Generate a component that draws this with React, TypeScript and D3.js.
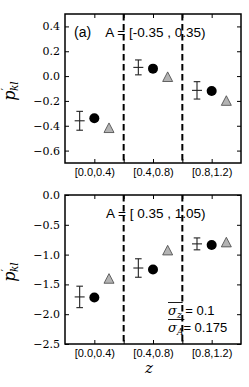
import React, { useEffect, useRef } from "react";
import * as d3 from "d3";

const groups = ["[0.0,0.4)", "[0.4,0.8)", "[0.8,1.2)"];
const groupCenters = [0.2, 0.6, 1.0];
const binEdges = [0.4, 0.8];
const xTicks = [0.2, 0.4, 0.6, 0.8, 1.0];

// top panel, A = [-0.35, 0.35)
const obsTop = [-0.36, 0.07, -0.115];
const errTop = [0.076, 0.06, 0.07];
const circleTop = [-0.34, 0.06, -0.12];
const triangleTop = [-0.416, -0.005, -0.197];
const yTicksTop = [0.4, 0.2, 0.0, -0.2, -0.4, -0.6];

// bottom panel, A = [0.35, 1.05)
const obsBottom = [-1.71, -1.225, -0.82];
const errBottom = [0.18, 0.155, 0.1];
const circleBottom = [-1.72, -1.25, -0.84];
const triangleBottom = [-1.4, -0.925, -0.79];
const yTicksBottom = [0.0, -0.5, -1.0, -1.5, -2.0, -2.5];

const W = 249;
const H = 387;
const left = 65;
const right = 241;
const panelH = 149;
const sans = "Liberation Sans, Arial, sans-serif";
const serif = "DejaVu Serif, serif";

export default function App() {
  const ref = useRef<SVGSVGElement>(null);

  useEffect(() => {
    const svg = d3.select(ref.current);
    svg.selectAll("*").remove();

    const x = d3.scaleLinear().domain([0, 1.2]).range([left, right]);
    const fmt = d3.format(".1f");

    function panel(
      top: number,
      domain: [number, number],
      yTicks: number[],
      obs: number[],
      err: number[],
      circ: number[],
      tri: number[],
      label: string,
      tag: string | null
    ) {
      const y = d3.scaleLinear().domain(domain).range([top + panelH, top]);
      const g = svg.append("g");

      // dashed bin boundaries
      g.selectAll("line.edge")
        .data(binEdges)
        .enter()
        .append("line")
        .attr("x1", (d) => x(d))
        .attr("x2", (d) => x(d))
        .attr("y1", top)
        .attr("y2", top + panelH)
        .attr("stroke", "#000")
        .attr("stroke-width", 2)
        .attr("stroke-dasharray", "6.5,3.5");

      // axes, ticks pointing inward
      const yl = g
        .append("g")
        .attr("transform", `translate(${left},0)`)
        .call(
          d3
            .axisLeft(y)
            .tickValues(yTicks)
            .tickSizeInner(-4)
            .tickSizeOuter(0)
            .tickPadding(5)
            .tickFormat((d) => fmt(d as number))
        );
      yl.attr("font-family", serif).attr("font-size", 11);
      yl.selectAll("text").attr("fill", "#000");
      g.append("g")
        .attr("transform", `translate(${right},0)`)
        .call(
          d3
            .axisRight(y)
            .tickValues(yTicks)
            .tickSizeInner(-4)
            .tickSizeOuter(0)
            .tickFormat(() => "")
        );
      const xb = g
        .append("g")
        .attr("transform", `translate(0,${top + panelH})`)
        .call(
          d3
            .axisBottom(x)
            .tickValues(xTicks)
            .tickSizeInner(-4)
            .tickSizeOuter(0)
            .tickPadding(5)
            .tickFormat((d) => {
              const i = groupCenters.indexOf(d as number);
              return i >= 0 ? groups[i] : "";
            })
        );
      xb.attr("font-family", sans).attr("font-size", 11);
      xb.selectAll("text").attr("fill", "#000");
      g.append("g")
        .attr("transform", `translate(0,${top})`)
        .call(
          d3
            .axisTop(x)
            .tickValues(xTicks)
            .tickSizeInner(-4)
            .tickSizeOuter(0)
            .tickFormat(() => "")
        );
      g.selectAll(".domain").remove();
      g.selectAll(".tick line").attr("stroke", "#000").attr("stroke-width", 1);

      // frame
      g.append("rect")
        .attr("x", left)
        .attr("y", top)
        .attr("width", right - left)
        .attr("height", panelH)
        .attr("fill", "none")
        .attr("stroke", "#000")
        .attr("stroke-width", 1.5);

      // error bars
      const ex = (i: number) => x(groupCenters[i] - 0.1);
      const eb = g
        .selectAll("g.eb")
        .data(obs)
        .enter()
        .append("g")
        .attr("stroke", "#222")
        .attr("stroke-width", 1.1);
      eb.append("line")
        .attr("x1", (d, i) => ex(i))
        .attr("x2", (d, i) => ex(i))
        .attr("y1", (d, i) => y(d + err[i]))
        .attr("y2", (d, i) => y(d - err[i]));
      eb.append("line")
        .attr("x1", (d, i) => ex(i) - 3.3)
        .attr("x2", (d, i) => ex(i) + 3.3)
        .attr("y1", (d, i) => y(d + err[i]))
        .attr("y2", (d, i) => y(d + err[i]));
      eb.append("line")
        .attr("x1", (d, i) => ex(i) - 3.3)
        .attr("x2", (d, i) => ex(i) + 3.3)
        .attr("y1", (d, i) => y(d - err[i]))
        .attr("y2", (d, i) => y(d - err[i]));
      eb.append("line")
        .attr("x1", (d, i) => ex(i) - 5)
        .attr("x2", (d, i) => ex(i) + 5)
        .attr("y1", (d) => y(d))
        .attr("y2", (d) => y(d));

      // circles
      g.selectAll("circle.m")
        .data(circ)
        .enter()
        .append("circle")
        .attr("cx", (d, i) => x(groupCenters[i]))
        .attr("cy", (d) => y(d))
        .attr("r", 5)
        .attr("fill", "#000");

      // triangles
      g.selectAll("path.t")
        .data(tri)
        .enter()
        .append("path")
        .attr("d", "M0,-4.8L5,4.8L-5,4.8Z")
        .attr("transform", (d, i) => `translate(${x(groupCenters[i] + 0.1)},${y(d)})`)
        .attr("fill", "#b3b3b3")
        .attr("stroke", "#444")
        .attr("stroke-width", 0.8);

      // annotations
      if (tag) {
        g.append("text")
          .attr("x", 74)
          .attr("y", top + 23)
          .attr("font-family", sans)
          .attr("font-size", 14)
          .text(tag);
      }
      g.append("text")
        .attr("x", 205.5)
        .attr("y", top + 23)
        .attr("text-anchor", "end")
        .attr("font-family", sans)
        .attr("font-size", 13.5)
        .text(label);

      // y label p'_kl
      const lab = g
        .append("text")
        .attr("transform", `translate(15,${top + 77}) rotate(-90)`)
        .attr("text-anchor", "middle")
        .attr("font-family", serif)
        .attr("font-style", "italic")
        .attr("font-size", 16);
      lab.append("tspan").text("p");
      lab.append("tspan")
        .attr("font-style", "normal")
        .attr("font-size", 11)
        .attr("dy", -6)
        .text("′");
      lab.append("tspan")
        .attr("font-size", 10.5)
        .attr("dx", -3)
        .attr("dy", 9)
        .text("kl");
    }

    panel(14, [-0.7, 0.5], yTicksTop, obsTop, errTop, circleTop, triangleTop, "A = [-0.35 , 0.35)", "(a)");
    panel(195, [-2.5, 0], yTicksBottom, obsBottom, errBottom, circleBottom, triangleBottom, "A = [ 0.35 , 1.05)", null);

    // sigma annotation
    const sig = [
      { sub: "z", rest: " = 0.1", base: 315 },
      { sub: "A", rest: "= 0.175", base: 332 },
    ];
    sig.forEach((s) => {
      const t = svg
        .append("text")
        .attr("x", 168)
        .attr("y", s.base)
        .attr("font-size", 13);
      t.append("tspan")
        .attr("font-family", serif)
        .attr("font-style", "italic")
        .text("σ");
      t.append("tspan")
        .attr("font-family", serif)
        .attr("font-style", "italic")
        .attr("font-size", 9)
        .attr("dy", 3)
        .text(s.sub);
      const sw = (t.node() as SVGTextElement).getComputedTextLength();
      t.append("tspan")
        .attr("font-family", sans)
        .attr("dy", -3)
        .text(s.rest);
      svg
        .append("line")
        .attr("x1", 168)
        .attr("x2", 168 + sw + 1)
        .attr("y1", s.base - 12.5)
        .attr("y2", s.base - 12.5)
        .attr("stroke", "#000")
        .attr("stroke-width", 0.9);
    });

    // x label
    svg
      .append("text")
      .attr("x", 149)
      .attr("y", 373)
      .attr("text-anchor", "middle")
      .attr("font-family", serif)
      .attr("font-style", "italic")
      .attr("font-size", 15)
      .text("z");
  });

  return (
    <svg
      ref={ref}
      width={W}
      height={H}
      style={{ position: "absolute", left: 0, top: 0, background: "#fff" }}
    />
  );
}
